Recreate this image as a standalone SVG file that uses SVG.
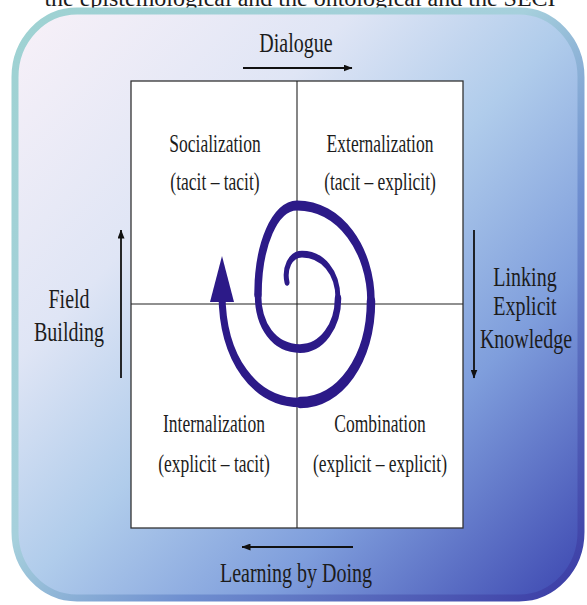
<svg xmlns="http://www.w3.org/2000/svg" width="587" height="605" viewBox="0 0 587 605">
<defs>
<linearGradient id="bg" x1="0" y1="0" x2="1" y2="1">
<stop offset="0" stop-color="#f8f1f8"/>
<stop offset="0.3" stop-color="#dfe5f5"/>
<stop offset="0.5" stop-color="#b0cceb"/>
<stop offset="0.72" stop-color="#7f9edc"/>
<stop offset="1" stop-color="#3c46b0"/>
</linearGradient>
<linearGradient id="edge" x1="0" y1="0" x2="1" y2="1">
<stop offset="0" stop-color="#9ed2d2"/>
<stop offset="0.45" stop-color="#a6d0dc"/>
<stop offset="0.65" stop-color="#6f8fd0"/>
<stop offset="1" stop-color="#3a3aa4"/>
</linearGradient>
<marker id="ah" markerWidth="9" markerHeight="7" refX="8.5" refY="3.5" orient="auto" markerUnits="userSpaceOnUse">
<path d="M0,0 L9,3.5 L0,7 z" fill="#111"/>
</marker>
<style>
.t{font-family:"Liberation Serif","Times New Roman",serif;fill:#1c1c1c;text-anchor:middle}
.o{font-size:20px}
.q{font-size:17.5px}
.ar{stroke:#111;stroke-width:1.8;fill:none;marker-end:url(#ah)}
.div{stroke:#222;stroke-width:1.1}
</style>
</defs>
<text class="t" x="300" y="6" style="font-size:24px">the epistemological and the ontological and the SECI</text>
<g id="frame">
<rect x="15" y="11" width="566" height="587" rx="62" ry="66" fill="url(#bg)" stroke="url(#edge)" stroke-width="7"/>
</g>
<g id="matrix">
<rect x="131" y="81" width="332" height="447" fill="#ffffff" stroke="#333" stroke-width="1.3"/>
<line class="div" x1="297" y1="81" x2="297" y2="528"/>
<line class="div" x1="131" y1="304" x2="463" y2="304"/>
</g>
<g id="socialization">
<text class="t q" transform="matrix(1,0,0,1.4,215,152)">Socialization</text>
<text class="t q" transform="matrix(1,0,0,1.4,215,190)">(tacit – tacit)</text>
</g>
<g id="externalization">
<text class="t q" transform="matrix(1,0,0,1.4,380,152)">Externalization</text>
<text class="t q" transform="matrix(1,0,0,1.4,380,190)">(tacit – explicit)</text>
</g>
<g id="internalization">
<text class="t q" transform="matrix(1,0,0,1.4,214,432)">Internalization</text>
<text class="t q" transform="matrix(1,0,0,1.4,214,472)">(explicit – tacit)</text>
</g>
<g id="combination">
<text class="t q" transform="matrix(1,0,0,1.4,380,432)">Combination</text>
<text class="t q" transform="matrix(1,0,0,1.4,380,472)">(explicit – explicit)</text>
</g>
<g id="spiral">
<g transform="matrix(1,0,0,1.35,0,-106.4)" fill="none" stroke="#2c1a88" stroke-linecap="round">
<path stroke-width="5" d="M 287 288 C 284 278, 290 267, 302 267 C 322 267, 338 280, 338 300"/>
<path stroke-width="6.5" d="M 338 300 C 338 320, 322 337, 300 337 C 274 337, 258 320, 258 297"/>
<path stroke-width="7.5" d="M 258 297 C 258 260, 275 231, 297 231 C 340 231, 371 264, 371 302"/>
<path stroke-width="8.5" d="M 371 302 C 371 345, 340 377, 300 377"/>
<path stroke-width="7" d="M 300 377 C 255 377, 222 345, 222 296"/>
</g>
<polygon points="222,256 210,302 234,302" fill="#2c1a88"/>
</g>
<g id="labels">
<text class="t o" transform="matrix(1,0,0,1.35,296,52)">Dialogue</text>
<text class="t o" transform="matrix(1,0,0,1.35,69,308)">Field</text>
<text class="t o" transform="matrix(1,0,0,1.35,69,341)">Building</text>
<text class="t o" transform="matrix(1,0,0,1.35,525,286)">Linking</text>
<text class="t o" transform="matrix(1,0,0,1.35,525,315)">Explicit</text>
<text class="t o" transform="matrix(1,0,0,1.35,526,348)">Knowledge</text>
<text class="t o" transform="matrix(1,0,0,1.35,296,582)">Learning by Doing</text>
</g>
<g id="connectors">
<line class="ar" x1="243" y1="68" x2="352" y2="68"/>
<line class="ar" x1="353" y1="547" x2="242" y2="547"/>
<line class="ar" x1="121" y1="378" x2="121" y2="230"/>
<line class="ar" x1="474" y1="230" x2="474" y2="378"/>
</g>
</svg>
